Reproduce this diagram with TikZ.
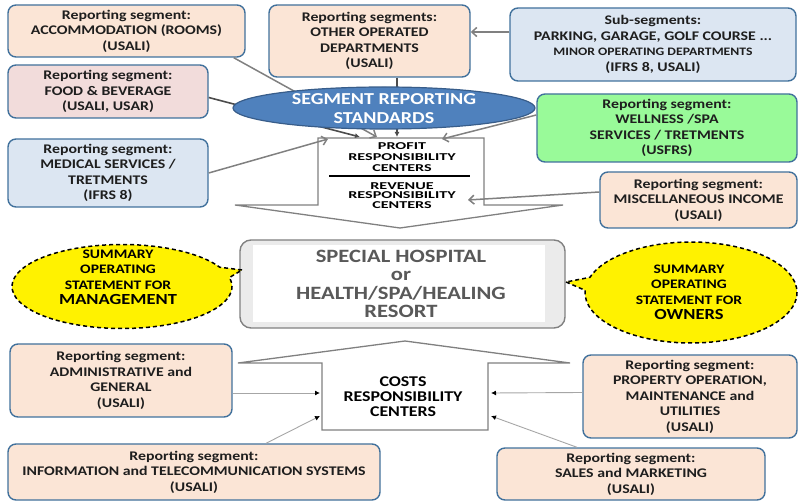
\documentclass[tikz,border=0pt]{standalone}
\usepackage{fontspec}
\setmainfont{Carlito}[FakeStretch=1.2]
\usetikzlibrary{shapes.geometric,shapes.callouts,arrows.meta}
\definecolor{bord}{RGB}{65,113,156}
\definecolor{peach}{RGB}{251,229,214}
\definecolor{pinkf}{RGB}{242,220,219}
\definecolor{lblue}{RGB}{220,230,242}
\definecolor{greenf}{RGB}{153,250,153}
\definecolor{ellf}{RGB}{79,129,189}
\definecolor{ellb}{RGB}{56,93,138}
\definecolor{conn}{RGB}{128,128,128}
\definecolor{lconn}{RGB}{166,166,166}
\definecolor{hosptext}{RGB}{89,89,89}
\definecolor{txt}{RGB}{30,30,30}
\newcommand{\wideln}[1]{\scalebox{1.28}[1]{#1}}
\begin{document}
\begin{tikzpicture}[x=1pt,y=-1pt,
  box/.style={draw=bord, line width=1.4pt, rounded corners=8pt, align=center, inner sep=0pt,
    font=\bfseries\fontsize{13.2}{15.5}\selectfont, text=txt},
  ptext/.style={align=center, inner sep=0pt, text=black},
  openarr/.style={draw=conn, line width=1.5pt, -{Straight Barb[length=5pt,width=9pt]}},
  fillarr/.style={draw=black!70, line width=1.6pt, -{Latex[length=5pt,width=5pt]}},
  costarr/.style={draw=lconn, line width=0.9pt, -{Latex[length=5pt,width=5pt,fill=black,color=black]}},
  blockshape/.style={draw=conn, line width=1.3pt, fill=white},
  bubble/.style={ellipse callout, draw=black, dash pattern=on 4pt off 3pt, line width=1.5pt, fill=yellow},
  btext/.style={align=center, inner sep=0pt, text=black, font=\bfseries\fontsize{13}{15.5}\selectfont}]
\useasboundingbox (0,0) rectangle (798,502);

% ---------- top boxes
\node[box, fill=peach, minimum width=237pt, minimum height=52pt] (acc) at (126.5,31)
  {Reporting segment:\\ACCOMMODATION (ROOMS)\\(USALI)};
\node[box, fill=pinkf, minimum width=200pt, minimum height=53pt] (food) at (108,91.5)
  {Reporting segment:\\FOOD \& BEVERAGE\\(USALI, USAR)};
\node[box, fill=lblue, minimum width=200pt, minimum height=68pt] (med) at (108,173)
  {Reporting segment:\\MEDICAL SERVICES /\\TRETMENTS\\(IFRS 8)};
\node[box, fill=peach, minimum width=201pt, minimum height=72pt] (oth) at (369.5,41)
  {Reporting segments:\\OTHER OPERATED\\DEPARTMENTS\\(USALI)};
\node[box, fill=lblue, minimum width=286pt, minimum height=73pt] (sub) at (653,44.5)
  {Sub-segments:\\PARKING, GARAGE, GOLF COURSE ...\\{\fontsize{11.4}{15.5}\selectfont MINOR OPERATING DEPARTMENTS}\\(IFRS 8, USALI)};
\node[box, fill=greenf, minimum width=260pt, minimum height=68pt] (well) at (667,128)
  {Reporting segment:\\WELLNESS /SPA\\SERVICES / TRETMENTS\\(USFRS)};
\node[box, fill=peach, minimum width=197pt, minimum height=56pt] (misc) at (698.5,200)
  {Reporting segment:\\MISCELLANEOUS INCOME\\(USALI)};

% ---------- bottom boxes
\node[box, fill=peach, minimum width=222pt, minimum height=73pt] (adm) at (121,380.5)
  {Reporting segment:\\ADMINISTRATIVE and\\GENERAL\\(USALI)};
\node[box, fill=peach, minimum width=372pt, minimum height=56pt] (info) at (194,472)
  {Reporting segment:\\INFORMATION and TELECOMMUNICATION SYSTEMS\\(USALI)};
\node[box, fill=peach, minimum width=214pt, minimum height=83pt] (prop) at (690,396.5)
  {Reporting segment:\\PROPERTY OPERATION,\\MAINTENANCE and\\UTILITIES\\(USALI)};
\node[box, fill=peach, minimum width=268pt, minimum height=52pt] (sales) at (631,474)
  {Reporting segment:\\SALES and MARKETING\\(USALI)};

% ---------- profit / revenue block arrow
\draw[blockshape] (318,138) -- (484,138) -- (484,205) -- (563,205) -- (400,228)
  -- (235,205) -- (318,205) -- cycle;
\node[ptext, font=\bfseries\fontsize{10.5}{11}\selectfont] (prof) at (402,157.5)
  {\wideln{PROFIT}\\\wideln{RESPONSIBILITY}\\\wideln{CENTERS}};
\node[ptext, font=\bfseries\fontsize{10.5}{9.5}\selectfont] (rev) at (402,195.5)
  {\wideln{REVENUE}\\\wideln{RESPONSIBILITY}\\\wideln{CENTERS}};
\draw[line width=2.2pt] (329,176) -- (470,176);

% target coordinates
\coordinate (tF) at (360,137);
\coordinate (tA) at (377,137);
\coordinate (tO) at (397,137);
\coordinate (tW) at (442,139);
\coordinate (tM) at (328,139);
\coordinate (tMi) at (468,200);

% connectors to profit block
\draw[openarr] ([xshift=-12pt]acc.south east) -- (tA);
\draw[fillarr] ([yshift=-6pt]food.east) -- (tF);
\draw[fillarr, line width=1.4pt] ([xshift=27.5pt]oth.south) -- (tO);
\draw[openarr] ([yshift=12.5pt]sub.west) -- ([yshift=9pt]oth.east);

% segment reporting ellipse
\node[ellipse, draw=ellb, fill=ellf, line width=1.2pt, minimum width=302pt, minimum height=42pt, inner sep=0pt] (srs) at (384,108) {};
\node[align=center, inner sep=0pt, text=white, font=\bfseries\fontsize{16.7}{19.5}\selectfont] (srst) at (384,108.5) {SEGMENT REPORTING\\STANDARDS};

\draw[openarr] (med.east) -- (tM);
\draw[openarr] ([yshift=13pt]well.west) -- (tW);
\draw[openarr] ([yshift=8pt]misc.west) -- (tMi);

% ---------- central box
\node[draw=conn, line width=1.4pt, rounded corners=11pt, fill=black!8, minimum width=325pt, minimum height=88pt, inner sep=0pt] (hosp) at (402.5,284) {};
\fill[white] (253,245) rectangle (545,322);
\node[align=center, inner sep=0pt, text=hosptext, font=\bfseries\fontsize{18.8}{18.5}\selectfont] (hospt) at (401,284)
  {SPECIAL HOSPITAL\\or\\HEALTH/SPA/HEALING\\RESORT};

% ---------- callouts
\coordinate (tipL) at (242,270);
\coordinate (tipR) at (566,282);
\node[bubble, minimum width=220pt, minimum height=84pt, callout absolute pointer={(tipL)}] (mgmt) at (122,286.5) {};
\node[btext] (mgmtt) at (118,277.5) {SUMMARY\\OPERATING\\STATEMENT FOR\\{\fontsize{15.4}{15.5}\selectfont MANAGEMENT}};
\node[bubble, minimum width=212pt, minimum height=101pt, callout absolute pointer={(tipR)}] (own) at (691,292.5) {};
\node[btext] (ownt) at (689,292.5) {SUMMARY\\OPERATING\\STATEMENT FOR\\{\fontsize{15.4}{15.5}\selectfont OWNERS}};

% ---------- costs block arrow
\draw[blockshape] (322,430) -- (322,363) -- (238,363) -- (405,341) -- (570,363)
  -- (488,363) -- (488,430) -- cycle;
\node[align=center, inner sep=0pt, text=black, font=\bfseries\fontsize{14.9}{15}\selectfont] (cost) at (403,397)
  {COSTS\\RESPONSIBILITY\\CENTERS};

\coordinate (cA) at (320,393);
\coordinate (cI) at (320,416);
\coordinate (cP) at (491,393);
\coordinate (cS) at (491,416);
\draw[costarr] ([yshift=-12.5pt]adm.east) -- (cA);
\draw[costarr] ([xshift=72pt]info.north) -- (cI);
\draw[costarr] ([yshift=4pt]prop.west) -- (cP);
\draw[costarr] ([xshift=-54pt]sales.north) -- (cS);
\end{tikzpicture}
\end{document}
